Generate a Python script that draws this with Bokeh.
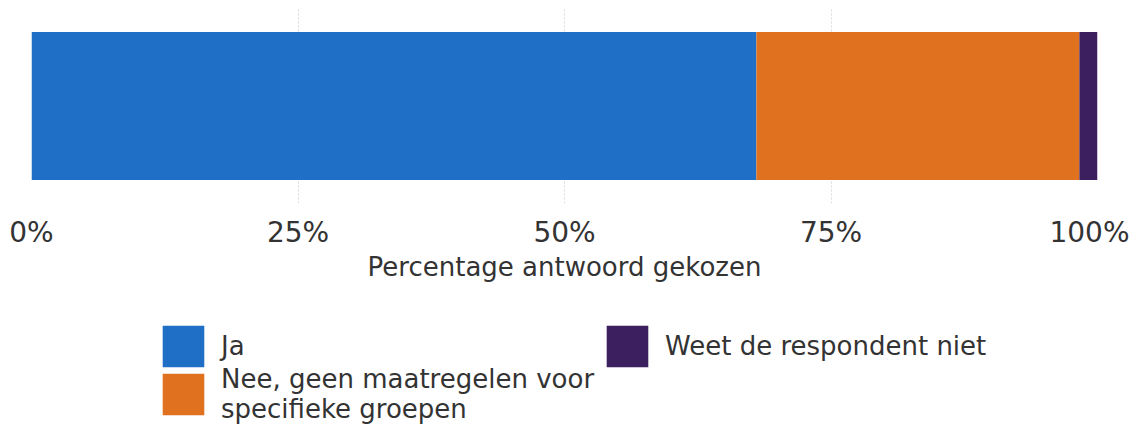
from bokeh.plotting import figure
from bokeh.layouts import column
from bokeh.models import Range1d, Legend, LegendItem, NumeralTickFormatter, FixedTicker
from bokeh.embed import file_html
from bokeh.resources import INLINE

categories = ["Ja", "Nee, geen maatregelen voor\nspecifieke groepen", "Weet de respondent niet"]
shares = [0.680, 0.303, 0.017]
colors = ["#1f6fc6", "#e0721f", "#3b1f5e"]
tick_values = [0, 0.25, 0.5, 0.75, 1.0]
axis_title = "Percentage antwoord gekozen"

FONT = "DejaVu Sans"

p = figure(frame_width=1066, frame_height=195, output_backend="svg", toolbar_location=None,
           x_range=Range1d(0, 1), y_range=Range1d(-0.5, 0.5),
           min_border_left=31, min_border_right=32, min_border_top=8, min_border_bottom=0)

lefts = []
acc = 0.0
for s in shares:
    lefts.append(acc)
    acc += s
rights = [l + s for l, s in zip(lefts, shares)]

for l, r, c in zip(lefts, rights, colors):
    p.hbar(y=[0], left=[l], right=[r], height=0.76, fill_color=c, line_color=None)

p.outline_line_color = None
p.background_fill_color = "white"
p.ygrid.visible = False
p.yaxis.visible = False
p.xgrid.grid_line_color = "#d9d9d9"
p.xgrid.grid_line_dash = "2 2"
p.xgrid.ticker = FixedTicker(ticks=tick_values)

xa = p.xaxis[0]
xa.ticker = FixedTicker(ticks=tick_values)
xa.formatter = NumeralTickFormatter(format="0%")
xa.axis_line_color = None
xa.major_tick_line_color = None
xa.minor_tick_line_color = None
xa.major_label_text_font = FONT
xa.major_label_text_font_size = "28px"
xa.major_label_text_color = "#333333"
xa.major_label_standoff = 6
xa.axis_label = axis_title
xa.axis_label_text_font = FONT
xa.axis_label_text_font_size = "26px"
xa.axis_label_text_font_style = "normal"
xa.axis_label_text_color = "#333333"
xa.axis_label_standoff = 0

# legend figure: its bars are hidden; only the legend shows
lg = figure(width=1129, height=143, output_backend="svg", toolbar_location=None,
            x_range=Range1d(0, 1), y_range=Range1d(-0.5, 0.5),
            x_axis_location=None, y_axis_location=None,
            min_border_left=0, min_border_right=0, min_border_top=0, min_border_bottom=0)
lg.outline_line_color = None
lg.grid.visible = False
leg_renderers = [lg.hbar(y=[0], left=[l], right=[r], height=0.76, fill_color=c,
                         line_color=None, visible=False)
                 for l, r, c in zip(lefts, rights, colors)]
items = [LegendItem(label=cat, renderers=[r]) for cat, r in zip(categories, leg_renderers)]

common = dict(glyph_width=52, glyph_height=52, label_standoff=12,
              label_text_font=FONT, label_text_font_size="26px", label_text_color="#333333",
              spacing=0, padding=0, margin=0, inactive_fill_alpha=0,
              border_line_color=None, background_fill_alpha=0)
legend_ja = Legend(items=[items[0]], location=(126, 55), **common)
legend_nee = Legend(items=[items[1]], location=(126, 3), **common)
legend_weet = Legend(items=[items[2]], location=(570, 55), **common)
for leg in (legend_ja, legend_nee, legend_weet):
    lg.add_layout(leg, "center")

layout = column(p, lg, spacing=0)
open("out.html", "w").write(file_html(layout, INLINE))
